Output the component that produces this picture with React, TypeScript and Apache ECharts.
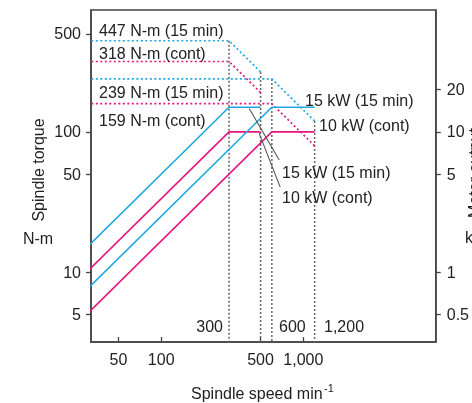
import React, { useEffect, useRef } from "react";
import * as echarts from "echarts";

// ---- data ----
// Spindle speed breakpoints (min^-1)
const SPEED_LOW = [30, 300, 500];
const SPEED_HIGH = [30, 600, 1200];
// Spindle torque (N-m), dotted curves, left axis
const TORQUE_LOW_15MIN = [447, 447, 268];
const TORQUE_LOW_CONT = [318, 318, 191];
const TORQUE_HIGH_15MIN = [239, 239, 119.5];
const TORQUE_HIGH_CONT = [159, 159, 79.5];
// Motor output (kW), solid curves, right axis
const POWER_LOW_15MIN = [1.5, 15, 15];
const POWER_LOW_CONT = [1.0, 10, 10];
const POWER_HIGH_15MIN = [0.75, 15, 15];
const POWER_HIGH_CONT = [0.5, 10, 10];
// Vertical guide lines (speed, torque at top)
const GUIDE_SPEEDS = [300, 500, 600, 1200];
const GUIDE_TOPS = [447, 268, 239, 119.5];
// Leader lines (speed pairs, torque pairs)
const LEADER_A_SPEED = [416, 676];
const LEADER_A_TORQUE = [147, 63];
const LEADER_B_SPEED = [489, 687];
const LEADER_B_TORQUE = [97.7, 40.4];
// Tick labels
const X_TICKS = [50, 100, 500, 1000];
const LEFT_TICKS = [5, 10, 50, 100, 500];
const RIGHT_TICKS = [0.5, 1, 5, 10, 20];

const BLUE = "#1fa8e0";
const PINK = "#e5177e";
const AXIS = "#444";
const TEXT = "#222";
const FONT = "'Liberation Sans', Arial, sans-serif";

const zip = (xs: number[], ys: number[]) => xs.map((x, i) => [x, ys[i]]);

const fmt = (v: number) => {
  const r = Math.round(v * 10) / 10;
  return r >= 1000 ? r.toLocaleString("en-US") : String(r);
};

export default function App() {
  const ref = useRef<HTMLDivElement>(null);
  useEffect(() => {
    if (!ref.current) return;
    const chart = echarts.init(ref.current, undefined, { renderer: "svg" });

    const dotted = (xs: number[], ys: number[], color: string) => ({
      type: "line",
      data: zip(xs, ys),
      yAxisIndex: 0,
      symbol: "none",
      silent: true,
      z: 3,
      lineStyle: { color, width: 1.7, type: [2, 2.5] },
    });
    const solid = (xs: number[], ys: number[], color: string) => ({
      type: "line",
      data: zip(xs, ys),
      yAxisIndex: 1,
      symbol: "none",
      silent: true,
      z: 4,
      lineStyle: { color, width: 1.6 },
    });

    const guides = GUIDE_SPEEDS.map((s, i) => ({
      type: "line",
      data: [
        [s, GUIDE_TOPS[i]],
        [s, 1],
      ],
      yAxisIndex: 0,
      symbol: "none",
      silent: true,
      z: 2,
      lineStyle: { color: "#666", width: 1.5, type: [2, 2] },
    }));

    const leader = (xs: number[], ys: number[]) => ({
      type: "line",
      data: zip(xs, ys),
      yAxisIndex: 0,
      symbol: "none",
      silent: true,
      z: 5,
      lineStyle: { color: "#555", width: 1.1 },
    });

    const txt = (
      text: string,
      x: number,
      y: number,
      opts: Record<string, unknown> = {}
    ) => ({
      type: "text",
      x,
      y,
      silent: true,
      z: 10,
      ...opts,
      style: {
        text,
        fill: TEXT,
        font: `16px ${FONT}`,
        align: (opts as any).align || "left",
        verticalAlign: "middle",
      },
    });

    const axisCommon = {
      axisLine: { show: true, lineStyle: { color: AXIS, width: 1.5 } },
      splitLine: { show: false },
      minorTick: { show: false },
      minorSplitLine: { show: false },
    };

    chart.setOption({
      animation: false,
      grid: {
        left: 91,
        right: 35,
        top: 10,
        bottom: 61,
        show: true,
        borderColor: AXIS,
        borderWidth: 1.5,
        backgroundColor: "transparent",
      },
      xAxis: {
        type: "log",
        min: 32.1,
        max: 8530,
        ...axisCommon,
        axisTick: {
          show: true,
          inside: true,
          length: 5,
          customValues: X_TICKS,
          lineStyle: { color: AXIS, width: 1.3 },
        },
        axisLabel: {
          customValues: X_TICKS,
          formatter: fmt,
          color: TEXT,
          fontSize: 16,
          fontFamily: FONT,
          margin: 9,
        },
      },
      yAxis: [
        {
          type: "log",
          position: "left",
          min: 3.17,
          max: 741,
          ...axisCommon,
          axisTick: {
            show: true,
            inside: false,
            length: 5,
            customValues: LEFT_TICKS,
            lineStyle: { color: AXIS, width: 1.3 },
          },
          axisLabel: {
            customValues: LEFT_TICKS,
            formatter: fmt,
            color: TEXT,
            fontSize: 16,
            fontFamily: FONT,
            margin: 10,
          },
        },
        {
          type: "log",
          position: "right",
          min: 0.317,
          max: 74.1,
          ...axisCommon,
          axisTick: {
            show: true,
            inside: false,
            length: 5,
            customValues: RIGHT_TICKS,
            lineStyle: { color: AXIS, width: 1.3 },
          },
          axisLabel: {
            customValues: RIGHT_TICKS,
            formatter: fmt,
            color: TEXT,
            fontSize: 16,
            fontFamily: FONT,
            margin: 11,
          },
        },
      ],
      series: [
        ...guides,
        dotted(SPEED_LOW, TORQUE_LOW_15MIN, BLUE),
        dotted(SPEED_LOW, TORQUE_LOW_CONT, PINK),
        dotted(SPEED_HIGH, TORQUE_HIGH_15MIN, BLUE),
        dotted(SPEED_HIGH, TORQUE_HIGH_CONT, PINK),
        solid(SPEED_LOW, POWER_LOW_15MIN, BLUE),
        solid(SPEED_LOW, POWER_LOW_CONT, PINK),
        solid(SPEED_HIGH, POWER_HIGH_15MIN, BLUE),
        solid(SPEED_HIGH, POWER_HIGH_CONT, PINK),
        leader(LEADER_A_SPEED, LEADER_A_TORQUE),
        leader(LEADER_B_SPEED, LEADER_B_TORQUE),
      ],
      graphic: [
        txt("447 N-m (15 min)", 99, 30),
        txt("318 N-m (cont)", 99, 53.5),
        txt("239 N-m (15 min)", 99, 92),
        txt("159 N-m (cont)", 99, 120),
        txt("15 kW (15 min)", 305, 100),
        txt("10 kW (cont)", 319, 125),
        txt("15 kW (15 min)", 282, 172),
        txt("10 kW (cont)", 282, 197),
        txt("300", 223, 326, { align: "right" }),
        txt("600", 279, 326),
        txt("1,200", 324, 326),
        txt("Spindle torque", 38, 170, { align: "center", rotation: Math.PI / 2 }),
        txt("N-m", 38, 238, { align: "center" }),
        txt("Motor output", 474, 173, { align: "center", rotation: Math.PI / 2 }),
        txt("kW", 465, 237),
        txt("Spindle speed min", 191, 393),
        {
          type: "text",
          x: 324,
          y: 388,
          silent: true,
          style: {
            text: "-1",
            fill: TEXT,
            font: `11px ${FONT}`,
            align: "left",
            verticalAlign: "middle",
          },
        },
      ],
    });
    return () => chart.dispose();
  }, []);
  return (
    <div
      ref={ref}
      style={{ position: "fixed", left: 0, top: 0, width: 472, height: 403 }}
    />
  );
}
